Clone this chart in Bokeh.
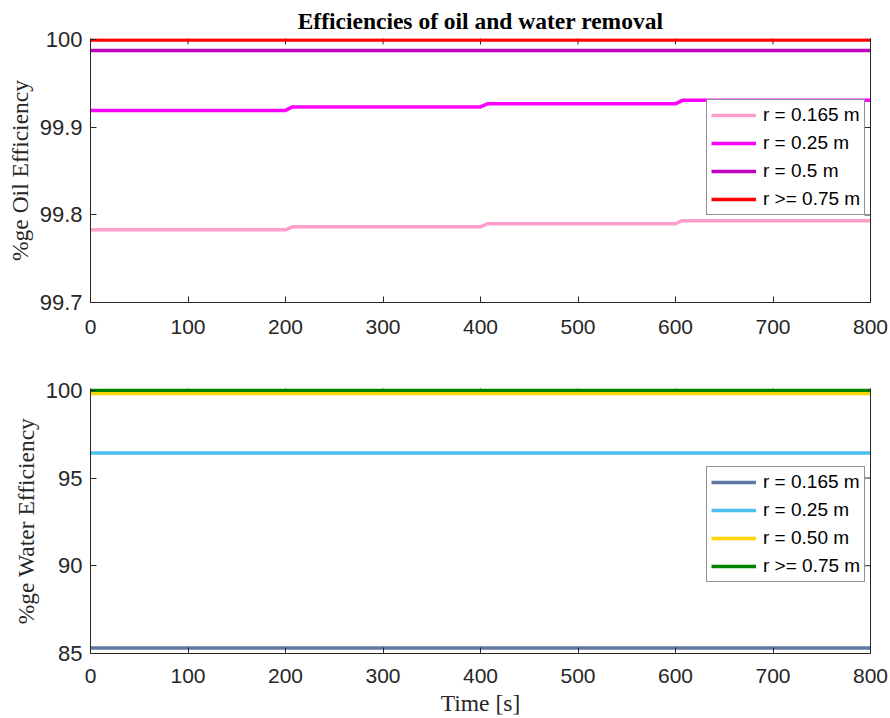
import math
from bokeh.plotting import figure
from bokeh.layouts import column
from bokeh.models import Legend, LegendItem, LinearAxis, Range1d, FixedTicker
from bokeh.embed import file_html
from bokeh.resources import INLINE

# ---- data ----
time_s = [0, 200, 207, 400, 407, 600, 607, 800]

oil_r0165 = [99.783, 99.783, 99.7865, 99.7865, 99.7900, 99.7900, 99.7935, 99.7935]
oil_r025 = [99.9195, 99.9195, 99.9235, 99.9235, 99.9270, 99.9270, 99.9310, 99.9310]
oil_r05 = [99.988, 99.988, 99.988, 99.988, 99.988, 99.988, 99.988, 99.988]
oil_r075 = [100.0, 100.0, 100.0, 100.0, 100.0, 100.0, 100.0, 100.0]

water_r0165 = [85.32, 85.32, 85.32, 85.32, 85.32, 85.32, 85.32, 85.32]
water_r025 = [96.42, 96.42, 96.42, 96.42, 96.42, 96.42, 96.42, 96.42]
water_r050 = [99.81, 99.81, 99.81, 99.81, 99.81, 99.81, 99.81, 99.81]
water_r075 = [100.0, 100.0, 100.0, 100.0, 100.0, 100.0, 100.0, 100.0]

oil_labels = ["r = 0.165 m", "r = 0.25 m", "r = 0.5 m", "r >= 0.75 m"]
water_labels = ["r = 0.165 m", "r = 0.25 m", "r = 0.50 m", "r >= 0.75 m"]
oil_colors = ["#FF9ECB", "#FF00FF", "#BC00BC", "#FF0000"]
water_colors = ["#6277A3", "#4DBFEE", "#FFD500", "#007F00"]

x_ticks = [0, 100, 200, 300, 400, 500, 600, 700, 800]
oil_ticks = [99.7, 99.8, 99.9, 100]
water_ticks = [85, 90, 95, 100]

SANS = "Liberation Sans"
SERIF = "Liberation Serif"
AX = "#262626"


def style(p, yticks, ylabel, xlabel=None):
    p.xgrid.visible = False
    p.ygrid.visible = False
    p.outline_line_color = None
    p.xaxis.ticker = FixedTicker(ticks=x_ticks)
    p.yaxis.ticker = FixedTicker(ticks=yticks)
    for ax in (p.xaxis[0], p.yaxis[0]):
        ax.major_tick_in = 6
        ax.major_tick_out = 0
        ax.minor_tick_line_color = None
        ax.axis_line_color = AX
        ax.major_tick_line_color = AX
        ax.major_label_text_font = SANS
        ax.major_label_text_color = AX
        ax.axis_label_text_font = SERIF
        ax.axis_label_text_font_size = "23.5px"
        ax.axis_label_text_font_style = "normal"
        ax.axis_label_text_color = AX
    p.xaxis.major_label_text_font_size = "21px"
    p.yaxis.major_label_text_font_size = "22px"
    p.yaxis.major_label_standoff = 8
    p.xaxis.major_label_standoff = 15 if xlabel else 17
    p.yaxis.axis_label = ylabel
    p.yaxis.axis_label_standoff = 4
    if xlabel:
        p.xaxis.axis_label = xlabel
        p.xaxis.axis_label_standoff = 4
    # right box line (no ticks / labels)
    right = LinearAxis(ticker=FixedTicker(ticks=[]), axis_line_color=AX,
                       major_tick_line_color=None, minor_tick_line_color=None)
    p.add_layout(right, "right")
    # inward ticks along the top and right edges of the box (MATLAB style)
    top_y = p.y_range.end
    p.scatter(x_ticks, [top_y] * len(x_ticks), marker="dash", size=12, angle=math.pi / 2,
              line_color=AX, line_width=1)
    right_x = p.x_range.end
    p.scatter([right_x] * len(yticks), yticks, marker="dash", size=12,
              line_color=AX, line_width=1)


def add_lines(p, series, colors, labels, loc):
    items = []
    for ys, c, lab in zip(series, colors, labels):
        r = p.line(time_s, ys, line_color=c, line_width=3.5)
        items.append(LegendItem(label=lab, renderers=[r]))
    leg = Legend(items=items, location=loc)
    leg.label_text_font = SANS
    leg.label_text_font_size = "19px"
    leg.label_text_color = "#000000"
    leg.glyph_width = 45
    leg.glyph_height = 20
    leg.label_height = 20
    leg.label_standoff = 7
    leg.spacing = 6
    leg.padding = 4
    leg.margin = 0
    leg.border_line_color = AX
    leg.border_line_width = 1
    leg.background_fill_alpha = 1
    p.add_layout(leg, "center")


p1 = figure(width=890, height=350, output_backend="svg", toolbar_location=None,
            x_range=Range1d(0, 800), y_range=Range1d(99.7, 100.0017),
            min_border_left=88, min_border_right=20, min_border_top=38, min_border_bottom=48)
p1.title.text = "Efficiencies of oil and water removal"
p1.title.text_font = SERIF
p1.title.text_font_size = "23.5px"
p1.title.text_font_style = "bold"
p1.title.align = "center"
p1.title.text_color = "#000000"
style(p1, oil_ticks, "%ge Oil Efficiency")
add_lines(p1, [oil_r0165, oil_r025, oil_r05, oil_r075], oil_colors, oil_labels, (616, 87))

p2 = figure(width=890, height=368, output_backend="svg", toolbar_location=None,
            x_range=Range1d(0, 800), y_range=Range1d(85, 100.1),
            min_border_left=90, min_border_right=18, min_border_top=38, min_border_bottom=65)
style(p2, water_ticks, "%ge Water Efficiency", "Time [s]")
add_lines(p2, [water_r0165, water_r025, water_r050, water_r075], water_colors, water_labels, (616, 71))

for p in (p1, p2):
    p.background_fill_color = "white"
    p.border_fill_color = "white"

layout = column(p1, p2, spacing=0)
open("out.html", "w").write(file_html(layout, INLINE))
